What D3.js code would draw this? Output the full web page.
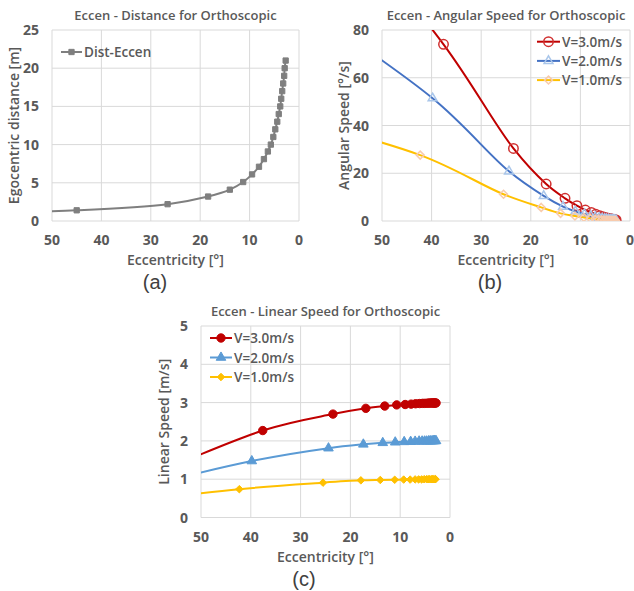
<!DOCTYPE html>
<html>
<head>
<meta charset="utf-8">
<script src="https://cdn.jsdelivr.net/npm/d3@7"></script>
<style>
  body { margin: 0; background: #fff; }
  svg { display: block; font-family: "Open Sans", "DejaVu Sans", sans-serif; }
  .tick-label { font-size: 14px; font-weight: 700; fill: #595959; }
  .chart-title { font-size: 13px; font-weight: 600; fill: #595959; }
  .axis-title { font-size: 14px; font-weight: 600; fill: #595959; }
  .legend-text { font-size: 13.5px; font-weight: 600; fill: #595959; }
  .panel-label { font-family: "Liberation Sans", Arial, sans-serif; font-size: 20px; fill: #404040; }
</style>
</head>
<body>
<script>
// eccentricity [deg] vs egocentric distance [m]  (first point lies off the axis, clipped)
const eccDist = [63.4, 45.0, 26.6, 18.4, 14.0, 11.3, 9.5, 8.1, 7.1, 6.3, 5.7, 5.2, 4.8, 4.4, 4.1, 3.8, 3.6, 3.4, 3.2, 3.0, 2.9, 2.7]
const distVals = [1.1, 1.4, 2.2, 3.2, 4.1, 5.1, 6.1, 7.1, 8.1, 9.1, 10.0, 11.0, 12.0, 13.0, 14.0, 15.0, 16.0, 17.0, 18.0, 19.0, 20.0, 21.0]

// eccentricities for each walking speed
const eccV3 = [73.3, 37.6, 23.5, 16.9, 13.1, 10.7, 9.0, 7.8, 6.9, 6.1, 5.5, 5.1, 4.6, 4.3, 4.0, 3.7, 3.5, 3.3, 3.1, 3.0, 2.8]
const eccV2 = [78.7, 39.8, 24.4, 17.4, 13.5, 11.0, 9.2, 7.9, 7.0, 6.2, 5.6, 5.1, 4.7, 4.3, 4.0, 3.8, 3.5, 3.3, 3.1, 3.0, 2.8]
const eccV1 = [84.3, 42.3, 25.5, 17.9, 14.0, 11.1, 9.3, 8.0, 7.0, 6.3, 5.7, 5.2, 4.7, 4.4, 4.1, 3.8, 3.6, 3.4, 3.2, 3.0, 2.9]

// angular speed [deg/s]
const angV3 = [165, 74.0, 30.4, 15.5, 9.5, 6.4, 4.6, 3.6, 2.8, 2.2, 1.8, 1.5, 1.3, 1.1, 0.95, 0.85, 0.75, 0.65, 0.58, 0.52, 0.47]
const angV2 = [108, 51.4, 20.8, 10.5, 6.0, 4.0, 2.9, 2.1, 1.7, 1.35, 1.1, 0.9, 0.78, 0.66, 0.57, 0.5, 0.44, 0.39, 0.35, 0.31, 0.28]
const angV1 = [52, 27.6, 11.2, 5.7, 3.2, 2.1, 1.5, 1.1, 0.85, 0.7, 0.56, 0.47, 0.4, 0.35, 0.3, 0.26, 0.23, 0.2, 0.18, 0.16, 0.15]

// linear speed [m/s]
const linV3 = [0.35, 2.27, 2.70, 2.85, 2.91, 2.94, 2.95, 2.96, 2.97, 2.975, 2.98, 2.98, 2.985, 2.985, 2.99, 2.99, 2.99, 2.99, 2.99, 2.99, 2.99]
const linV2 = [0.25, 1.475, 1.81, 1.91, 1.95, 1.965, 1.975, 1.98, 1.985, 1.99, 1.99, 1.99, 1.99, 1.995, 1.995, 1.995, 1.995, 2.0, 2.0, 2.0, 2.0]
const linV1 = [0.1, 0.74, 0.91, 0.97, 0.98, 0.985, 0.99, 0.99, 0.995, 0.995, 0.995, 1.0, 1.0, 1.0, 1.0, 1.0, 1.0, 1.0, 1.0, 1.0, 1.0]

const seriesNames = ['V=3.0m/s', 'V=2.0m/s', 'V=1.0m/s']
const xTicks = [50, 40, 30, 20, 10, 0]

const svg = d3.select('body').append('svg')
  .attr('width', 634)
  .attr('height', 591)

const zip = (xs, ys) => xs.map((x, i) => [x, ys[i]])
const diamond = d3.symbolDiamond2 || d3.symbolDiamond

function panel(o) {
  let g = svg.append('g')
  let x = d3.scaleLinear().domain([50, 0]).range([o.x0, o.x1])
  let y = d3.scaleLinear().domain([0, o.yMax]).range([o.y1, o.y0])

  // grid + border
  g.selectAll('.vgrid').data(xTicks).join('line')
    .attr('x1', d => x(d)).attr('x2', d => x(d))
    .attr('y1', o.y0).attr('y2', o.y1)
    .attr('stroke', '#d9d9d9').attr('stroke-width', 1)
  g.selectAll('.hgrid').data(o.yTicks).join('line')
    .attr('x1', o.x0).attr('x2', o.x1)
    .attr('y1', d => y(d)).attr('y2', d => y(d))
    .attr('stroke', '#d9d9d9').attr('stroke-width', 1)

  // tick labels
  g.selectAll('.xt').data(xTicks).join('text')
    .attr('class', 'tick-label')
    .attr('x', d => x(d)).attr('y', o.y1 + 24)
    .attr('text-anchor', 'middle')
    .text(d => d)
  g.selectAll('.yt').data(o.yTicks).join('text')
    .attr('class', 'tick-label')
    .attr('x', o.x0 - 13).attr('y', d => y(d) + 5)
    .attr('text-anchor', 'end')
    .text(d => d)

  // titles
  g.append('text').attr('class', 'chart-title')
    .attr('x', (o.x0 + o.x1) / 2).attr('y', o.y0 - 10)
    .attr('text-anchor', 'middle').text(o.title)
  g.append('text').attr('class', 'axis-title')
    .attr('x', (o.x0 + o.x1) / 2).attr('y', o.y1 + 44)
    .attr('text-anchor', 'middle').text('Eccentricity [°]')
  g.append('text').attr('class', 'axis-title')
    .attr('transform', `translate(${o.yTitleX},${(o.y0 + o.y1) / 2}) rotate(-90)`)
    .attr('text-anchor', 'middle').text(o.yTitle)
  g.append('text').attr('class', 'panel-label')
    .attr('x', o.labelX).attr('y', o.y1 + 68)
    .attr('text-anchor', 'middle').text(o.label)

  // data, clipped to plot area
  let clipId = 'clip' + o.label.replace(/\W/g, '')
  g.append('clipPath').attr('id', clipId)
    .append('rect')
    .attr('x', o.x0).attr('y', o.y0)
    .attr('width', o.x1 - o.x0).attr('height', o.y1 - o.y0)
  let plot = g.append('g').attr('clip-path', `url(#${clipId})`)

  let line = d3.line()
    .x(d => x(d[0])).y(d => y(d[1]))
    .curve(d3.curveCatmullRom.alpha(0.5))

  o.series.forEach(s => {
    plot.append('path')
      .attr('d', line(s.pts))
      .attr('fill', 'none')
      .attr('stroke', s.color)
      .attr('stroke-width', 2)
    plot.selectAll(null).data(s.pts.slice(1)).join('path')
      .attr('transform', d => `translate(${x(d[0])},${y(d[1])})`)
      .attr('d', d3.symbol(s.symbol, s.size))
      .attr('fill', s.fill)
      .attr('stroke', s.stroke)
      .attr('stroke-width', s.strokeWidth || 1)
  })

  // legend
  o.series.forEach((s, i) => {
    let ly = o.legY + i * o.legDy
    g.append('line')
      .attr('x1', o.legX0).attr('x2', o.legX1)
      .attr('y1', ly).attr('y2', ly)
      .attr('stroke', s.color).attr('stroke-width', 2)
    g.append('path')
      .attr('transform', `translate(${(o.legX0 + o.legX1) / 2},${ly})`)
      .attr('d', d3.symbol(s.symbol, s.size))
      .attr('fill', s.fill)
      .attr('stroke', s.stroke)
      .attr('stroke-width', s.strokeWidth || 1)
    g.append('text').attr('class', 'legend-text')
      .attr('x', o.legX1 + 2).attr('y', ly + 5)
      .text(s.name)
  })
}

// (a)
panel({
  x0: 52, x1: 299, y0: 30, y1: 221, yMax: 25, yTicks: [0, 5, 10, 15, 20, 25],
  title: 'Eccen - Distance for Orthoscopic', yTitle: 'Egocentric distance [m]', yTitleX: 19,
  label: '(a)', labelX: 155,
  legX0: 61, legX1: 82, legY: 52, legDy: 0,
  series: [
    { name: 'Dist-Eccen', pts: zip(eccDist, distVals), color: '#7f7f7f',
      symbol: d3.symbolSquare, size: 28, fill: '#7f7f7f', stroke: '#7f7f7f' }
  ]
})

// (b)
panel({
  x0: 382, x1: 630, y0: 30, y1: 221, yMax: 80, yTicks: [0, 20, 40, 60, 80],
  title: 'Eccen - Angular Speed for Orthoscopic', yTitle: 'Angular Speed [°/s]', yTitleX: 349,
  label: '(b)', labelX: 490,
  legX0: 537, legX1: 560, legY: 41.7, legDy: 19.2,
  series: [
    { name: seriesNames[0], pts: zip(eccV3, angV3), color: '#c00000',
      symbol: d3.symbolCircle, size: 70, fill: 'none', stroke: '#d03030', strokeWidth: 1.5 },
    { name: seriesNames[1], pts: zip(eccV2, angV2), color: '#4472c4',
      symbol: d3.symbolTriangle, size: 34, fill: 'none', stroke: '#a9c6ea', strokeWidth: 1.5 },
    { name: seriesNames[2], pts: zip(eccV1, angV1), color: '#ffc000',
      symbol: diamond, size: 40, fill: 'none', stroke: '#f8cbad', strokeWidth: 1.5 }
  ]
})

// (c)
panel({
  x0: 201, x1: 450, y0: 326, y1: 517.5, yMax: 5, yTicks: [0, 1, 2, 3, 4, 5],
  title: 'Eccen - Linear Speed for Orthoscopic', yTitle: 'Linear Speed [m/s]', yTitleX: 169,
  label: '(c)', labelX: 304,
  legX0: 210, legX1: 232, legY: 338, legDy: 19.5,
  series: [
    { name: seriesNames[0], pts: zip(eccV3, linV3), color: '#c00000',
      symbol: d3.symbolCircle, size: 55, fill: '#c00000', stroke: '#c00000' },
    { name: seriesNames[1], pts: zip(eccV2, linV2), color: '#5b9bd5',
      symbol: d3.symbolTriangle, size: 40, fill: '#5b9bd5', stroke: '#5b9bd5' },
    { name: seriesNames[2], pts: zip(eccV1, linV1), color: '#ffc000',
      symbol: diamond, size: 36, fill: '#ffc000', stroke: '#ffc000' }
  ]
})
</script>
</body>
</html>
